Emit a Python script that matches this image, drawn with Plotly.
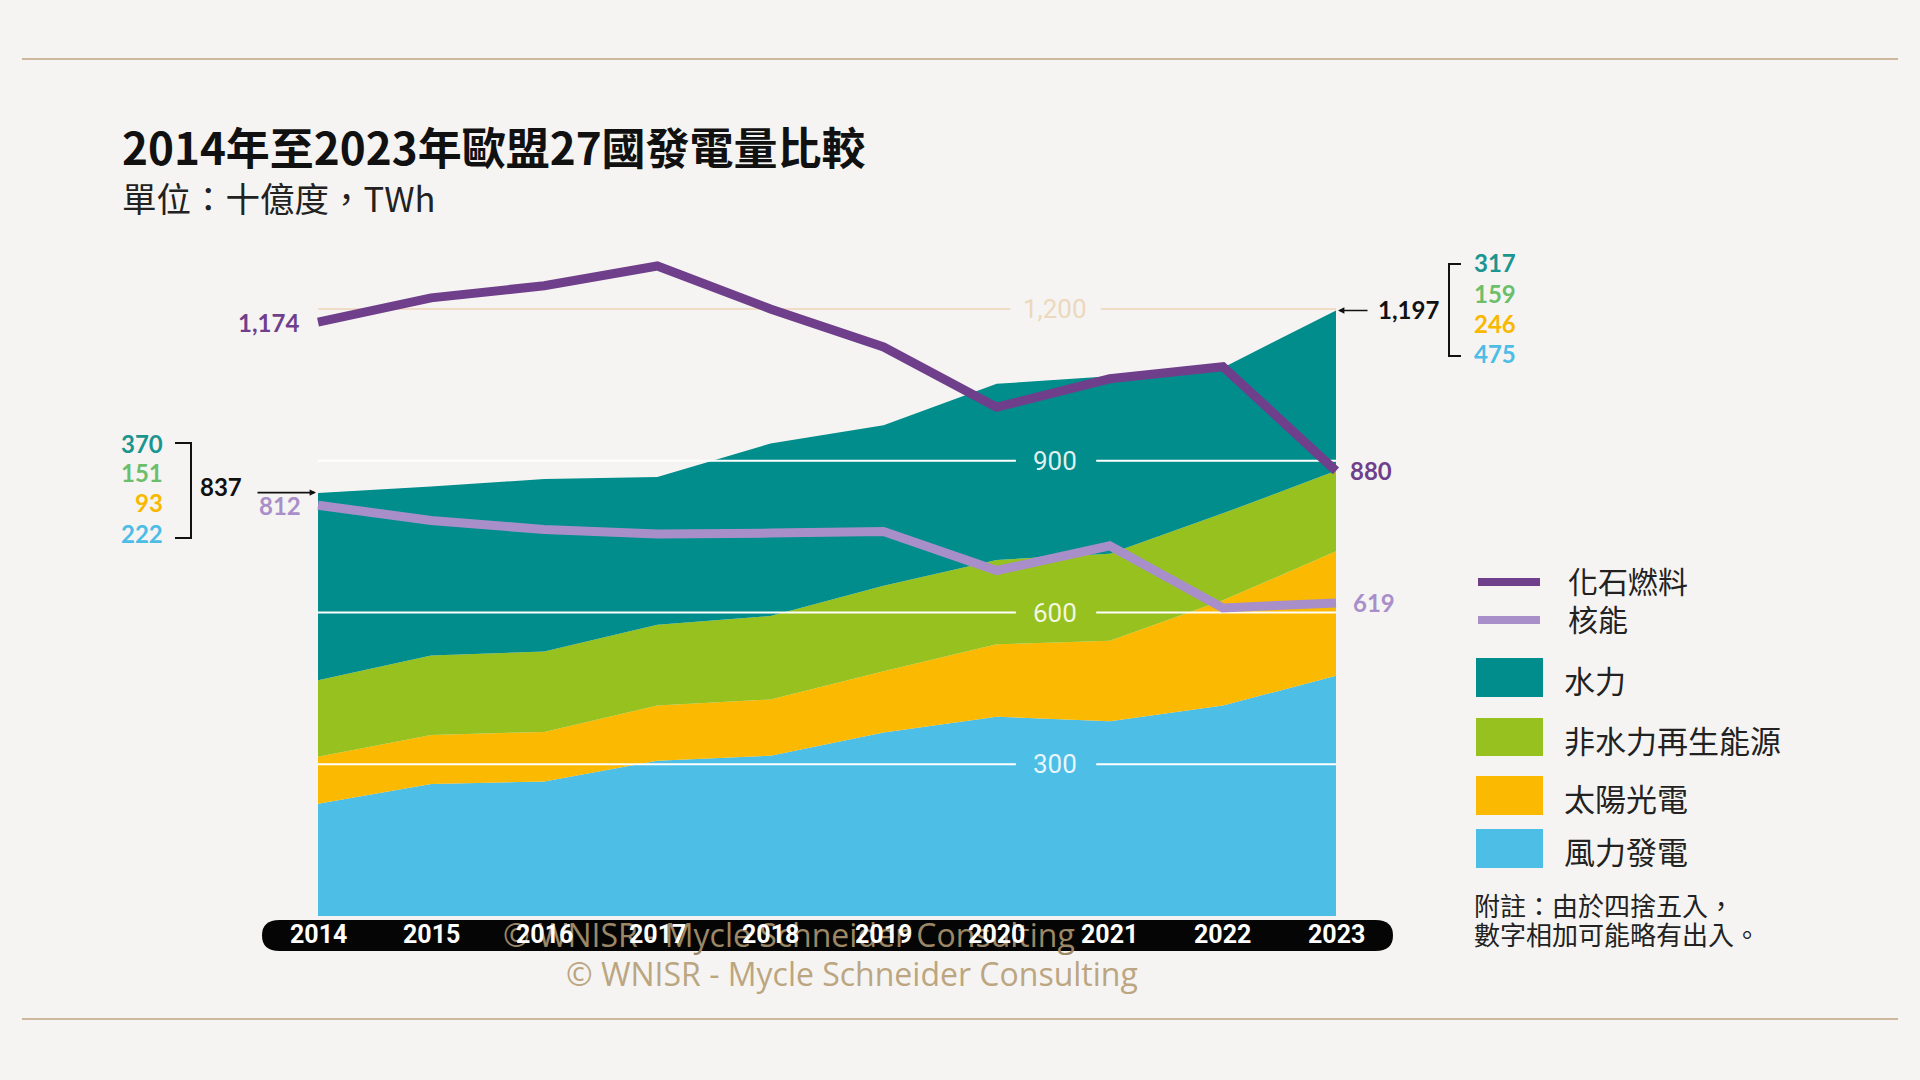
import plotly.graph_objects as go

# ---------------- data ----------------
years = [2014, 2015, 2016, 2017, 2018, 2019, 2020, 2021, 2022, 2023]
wind = [222, 261, 266, 307, 317, 363, 394, 385, 416, 475]
solar = [93, 97, 98, 109, 111, 121, 143, 159, 208, 246]
other_renew = [151, 157, 159, 160, 165, 169, 167, 172, 172, 159]
hydro = [370, 334, 341, 292, 341, 317, 348, 351, 288, 317]
fossil = [1174, 1222, 1246, 1285, 1200, 1125, 1006, 1062, 1086, 880]
nuclear = [812, 782, 764, 755, 757, 760, 683, 732, 609, 619]
total_start = 837
total_end = 1197
grid_values = [300, 600, 900]
grid_labels = ["300", "600", "900"]
top_grid_value = 1200
top_grid_label = "1,200"

series_names = ["水力", "非水力再生能源", "太陽光電", "風力發電"]
line_names = ["化石燃料", "核能"]

# ---------------- styles ----------------
BG = "#f6f4f2"
C_WIND = "#4dbee6"
C_SOLAR = "#fbb901"
C_OTHER = "#97c11e"
C_HYDRO = "#008d8b"
C_FOSSIL = "#6f3f8c"
C_NUCLEAR = "#a88fca"
T_HYDRO = "#1b9590"
T_OTHER = "#6cbf6a"
T_SOLAR = "#f9b800"
T_WIND = "#4dbde6"
TAN = "#cdb89c"
W, H = 1920, 1080
CJK = "Noto Sans CJK TC, Noto Sans CJK SC, sans-serif"
NUM = "Lato, Roboto, sans-serif"
NARROW = "Roboto, sans-serif"

# axis mapping: 2014 -> 318 px, 2023 -> 1336 px; 0 -> 916 px, 1200 -> 309 px
px_per_year = (1336 - 318) / 9
x0 = 2014 - 318 / px_per_year
x1 = 2023 + (W - 1336) / px_per_year
px_per_twh = (916 - 309) / 1200
y_lo = -(H - 916) / px_per_twh
y_hi = 916 / px_per_twh


def fx(p):
    return p / W


def fy(p):
    return 1 - p / H


fig = go.Figure()

# top gridline (1,200) behind areas
fig.add_trace(go.Scatter(x=[years[0], 2020.12, None, 2020.92, years[-1]],
                         y=[top_grid_value] * 2 + [None] + [top_grid_value] * 2,
                         mode="lines", line=dict(color="#f0dcc6", width=2),
                         hoverinfo="skip", showlegend=False))

# stacked areas
for vals, col, name in [(wind, C_WIND, series_names[3]), (solar, C_SOLAR, series_names[2]),
                        (other_renew, C_OTHER, series_names[1]), (hydro, C_HYDRO, series_names[0])]:
    fig.add_trace(go.Scatter(x=years, y=vals, stackgroup="one", mode="none",
                             fillcolor=col, line=dict(width=0), name=name,
                             hoverinfo="skip", showlegend=False))

# white gridlines over areas
for v in grid_values:
    fig.add_trace(go.Scatter(x=[years[0], 2020.17, None, 2020.88, years[-1]],
                             y=[v, v, None, v, v], mode="lines",
                             line=dict(color="white", width=2),
                             hoverinfo="skip", showlegend=False))

# lines
fig.add_trace(go.Scatter(x=years, y=nuclear, mode="lines", name=line_names[1],
                         line=dict(color=C_NUCLEAR, width=9), hoverinfo="skip", showlegend=False))
fig.add_trace(go.Scatter(x=years, y=fossil, mode="lines", name=line_names[0],
                         line=dict(color=C_FOSSIL, width=9), hoverinfo="skip", showlegend=False))

ann = []
shapes = []

# gridline labels
for v, lab in zip(grid_values, grid_labels):
    ann.append(dict(x=2020.52, y=v, xref="x", yref="y", text=lab, showarrow=False,
                    font=dict(family=NARROW, size=26, color="rgba(255,255,255,0.88)")))
ann.append(dict(x=2020.52, y=top_grid_value, xref="x", yref="y", text=top_grid_label, showarrow=False,
                font=dict(family=NARROW, size=26, color="#ecd8bc")))

# line end labels
ann.append(dict(x=years[0], y=fossil[0], xref="x", yref="y", text=f"<b>{fossil[0]:,}</b>",
                showarrow=False, xanchor="right", xshift=-17,
                font=dict(family=NUM, size=24, color=C_FOSSIL)))
ann.append(dict(x=years[0], y=nuclear[0], xref="x", yref="y", text=f"<b>{nuclear[0]:,}</b>",
                showarrow=False, xanchor="right", xshift=-15,
                font=dict(family=NUM, size=24, color=C_NUCLEAR)))
ann.append(dict(x=years[-1], y=fossil[-1], xref="x", yref="y", text=f"<b>{fossil[-1]:,}</b>",
                showarrow=False, xanchor="left", xshift=12,
                font=dict(family=NUM, size=24, color=C_FOSSIL)))
ann.append(dict(x=years[-1], y=nuclear[-1], xref="x", yref="y", text=f"<b>{nuclear[-1]:,}</b>",
                showarrow=False, xanchor="left", xshift=15,
                font=dict(family=NUM, size=24, color=C_NUCLEAR)))

# totals with arrows
ann.append(dict(x=years[0], y=total_start, xref="x", yref="y", text="",
                showarrow=True, ax=-62, ay=0, arrowhead=2, arrowsize=0.8, arrowwidth=1.6,
                arrowcolor="#111", standoff=2))
ann.append(dict(x=years[0], y=total_start, xref="x", yref="y", text=f"<b>{total_start:,}</b>",
                showarrow=False, xanchor="right", xshift=-74, yshift=6,
                font=dict(family=NUM, size=24, color="#111")))
ann.append(dict(x=years[-1], y=total_end, xref="x", yref="y", text="",
                showarrow=True, ax=33, ay=0, arrowhead=2, arrowsize=0.8, arrowwidth=1.6,
                arrowcolor="#111", standoff=2))
ann.append(dict(x=years[-1], y=total_end, xref="x", yref="y", text=f"<b>{total_end:,}</b>",
                showarrow=False, xanchor="left", xshift=40, yshift=1,
                font=dict(family=NUM, size=24, color="#111")))

# breakdown numbers
left_vals = [hydro[0], other_renew[0], solar[0], wind[0]]
right_vals = [hydro[-1], other_renew[-1], solar[-1], wind[-1]]
num_cols = [T_HYDRO, T_OTHER, T_SOLAR, T_WIND]
for v, c, yy in zip(left_vals, num_cols, [443, 473, 502, 533]):
    ann.append(dict(x=fx(165), y=fy(yy), xref="paper", yref="paper", text=f"<b>{v}</b>",
                    showarrow=False, xanchor="right",
                    font=dict(family=NUM, size=24, color=c)))
for v, c, yy in zip(right_vals, num_cols, [263, 293, 323, 353]):
    ann.append(dict(x=fx(1472), y=fy(yy), xref="paper", yref="paper", text=f"<b>{v}</b>",
                    showarrow=False, xanchor="left",
                    font=dict(family=NUM, size=24, color=c)))

# brackets
shapes.append(dict(type="path", xref="paper", yref="paper",
                   path=f"M {fx(175)},{fy(443)} L {fx(191)},{fy(443)} L {fx(191)},{fy(538)} L {fx(175)},{fy(538)}",
                   line=dict(color="#111", width=2)))
shapes.append(dict(type="path", xref="paper", yref="paper",
                   path=f"M {fx(1461)},{fy(264)} L {fx(1449)},{fy(264)} L {fx(1449)},{fy(356)} L {fx(1461)},{fy(356)}",
                   line=dict(color="#111", width=2)))

# horizontal rules
for yy in [59, 1019]:
    shapes.append(dict(type="line", xref="paper", yref="paper", x0=fx(22), x1=fx(1898),
                       y0=fy(yy), y1=fy(yy), line=dict(color=TAN, width=2)))

# x-axis pill bar
bl, br, bt, bb = 264, 1391, 920, 951
r = (bb - bt) / 2
path = (f"M {fx(bl + r)},{fy(bt)} L {fx(br - r)},{fy(bt)} "
        f"Q {fx(br + 2)},{fy(bt)} {fx(br + 2)},{fy(bt + r)} "
        f"Q {fx(br + 2)},{fy(bb)} {fx(br - r)},{fy(bb)} "
        f"L {fx(bl + r)},{fy(bb)} "
        f"Q {fx(bl - 2)},{fy(bb)} {fx(bl - 2)},{fy(bt + r)} "
        f"Q {fx(bl - 2)},{fy(bt)} {fx(bl + r)},{fy(bt)} Z")
shapes.append(dict(type="path", xref="paper", yref="paper", path=path,
                   fillcolor="#050505", line=dict(width=0), layer="above"))

# watermark inside bar
ann.append(dict(x=fx(789), y=fy(934), xref="paper", yref="paper", xanchor="center",
                text="© WNISR - Mycle Schneider Consulting", showarrow=False,
                font=dict(family="Open Sans, Lato, sans-serif", size=32, color="#9c8866")))

# year labels
for yr in years:
    ann.append(dict(x=yr, y=fy(934), xref="x", yref="paper", text=f"<b>{yr}</b>",
                    showarrow=False, xanchor="center",
                    font=dict(family=NARROW, size=25, color="white")))

# watermark below
ann.append(dict(x=fx(852), y=fy(973), xref="paper", yref="paper", xanchor="center",
                text="© WNISR - Mycle Schneider Consulting", showarrow=False,
                font=dict(family="Open Sans, Lato, sans-serif", size=32, color="#bba681")))

# title & subtitle
ann.append(dict(x=fx(120), y=fy(146), xref="paper", yref="paper", xanchor="left",
                text="<b>2014年至2023年歐盟27國發電量比較</b>", showarrow=False,
                font=dict(family=CJK, size=44, color="#111")))
ann.append(dict(x=fx(120), y=fy(197), xref="paper", yref="paper", xanchor="left",
                text="單位：十億度，TWh", showarrow=False,
                font=dict(family=CJK, size=34.5, color="#222")))

# custom legend
for yy, c, lab in [(582, C_FOSSIL, line_names[0]), (620, C_NUCLEAR, line_names[1])]:
    shapes.append(dict(type="line", xref="paper", yref="paper", x0=fx(1478), x1=fx(1540),
                       y0=fy(yy), y1=fy(yy), line=dict(color=c, width=8)))
    ann.append(dict(x=fx(1566), y=fy(yy - 2), xref="paper", yref="paper", xanchor="left",
                    text=lab, showarrow=False, font=dict(family=CJK, size=30, color="#222")))
for (t, b), c, lab in [((658, 697), C_HYDRO, series_names[0]), ((718, 756), C_OTHER, series_names[1]),
                       ((776, 815), C_SOLAR, series_names[2]), ((829, 868), C_WIND, series_names[3])]:
    shapes.append(dict(type="rect", xref="paper", yref="paper", x0=fx(1476), x1=fx(1543),
                       y0=fy(t), y1=fy(b), fillcolor=c, line=dict(width=0)))
    ann.append(dict(x=fx(1562), y=fy((t + b) / 2 + 2), xref="paper", yref="paper", xanchor="left",
                    text=lab, showarrow=False, font=dict(family=CJK, size=31, color="#222")))
ann.append(dict(x=fx(1472), y=fy(904), xref="paper", yref="paper", xanchor="left",
                text="附註：由於四捨五入，", showarrow=False,
                font=dict(family=CJK, size=26, color="#222")))
ann.append(dict(x=fx(1472), y=fy(933), xref="paper", yref="paper", xanchor="left",
                text="數字相加可能略有出入。", showarrow=False,
                font=dict(family=CJK, size=26, color="#222")))

for a in ann:
    a.setdefault("yanchor", "middle")
    a.setdefault("xanchor", "center")

fig.update_layout(
    width=W, height=H, margin=dict(l=0, r=0, t=0, b=0),
    paper_bgcolor=BG, plot_bgcolor=BG, showlegend=False,
    xaxis=dict(range=[x0, x1], visible=False, fixedrange=True),
    yaxis=dict(range=[y_lo, y_hi], visible=False, fixedrange=True),
    annotations=ann, shapes=shapes,
)

fig.write_html("out.html")
